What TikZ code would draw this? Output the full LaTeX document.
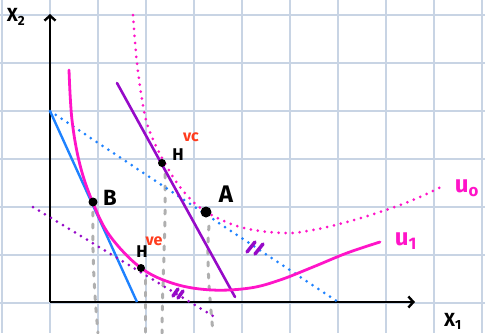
\documentclass[tikz,border=0pt]{standalone}
\usepackage{fontspec}
\setmainfont{Fira Sans}
\usetikzlibrary{arrows.meta}
\definecolor{gridc}{RGB}{200,212,228}
\definecolor{mag}{RGB}{255,20,200}
\definecolor{purp}{RGB}{150,10,200}
\definecolor{bluec}{RGB}{30,130,255}
\definecolor{redc}{RGB}{255,60,30}
\definecolor{grayc}{RGB}{175,175,175}
\tikzset{
  dots/.style={line width=3pt,line cap=round,dash pattern=on 0pt off 7pt},
  graydash/.style={grayc,line width=3pt,line cap=round,dash pattern=on 4pt off 8pt},
  ptdot/.style={circle,fill=black,inner sep=0pt},
  lbl/.style={inner sep=0pt},
  tick/.style={purp,line width=3.5pt,line cap=round}
}
\begin{document}
\begin{tikzpicture}[x=1pt,y=-1pt]
\useasboundingbox (0,0) rectangle (485,333);
% grid
\foreach \gx in {2,50,...,482} \draw[gridc,line width=1.4pt] (\gx,0) -- (\gx,333);
\foreach \gy in {15,63,...,303} \draw[gridc,line width=1.4pt] (0,\gy) -- (485,\gy);
% gray guides
\draw[graydash] (93,212) .. controls (92,260) and (95,300) .. (98,333);
\draw[graydash] (145,280) -- (145,333);
\draw[graydash] (165,174) .. controls (166,230) and (162,290) .. (162,333);
\draw[graydash] (209,226) .. controls (206,260) and (210,300) .. (213,333);
% axes
\coordinate (O) at (50,302);
\coordinate (Ytop) at (50,14);
\coordinate (Xend) at (415,302);
\draw[line width=2.4pt,-{Straight Barb[length=5pt,width=11pt]}] (O) -- (Ytop);
\draw[line width=2.4pt,-{Straight Barb[length=5pt,width=11pt]}] (O) -- (Xend);
\node[lbl,font=\fontsize{19}{19}\selectfont\bfseries] (x2) at (16,17) {X\textsubscript{2}};
\node[lbl,font=\fontsize{19}{19}\selectfont\bfseries] (x1) at (453,321) {X\textsubscript{1}};
% blue lines
\coordinate (b0) at (50,111);
\coordinate (b1) at (137,302);
\coordinate (b2) at (338,302);
\draw[bluec,line width=2.4pt] (b0) -- (b1);
\draw[bluec,dots] (b0) -- (b2);
% purple lines
\coordinate (p0) at (117,83);
\coordinate (p1) at (235,297);
\draw[purp,line width=2.6pt,line cap=round] (p0) -- (p1);
\coordinate (q0) at (33,207);
\coordinate (q1) at (218,319);
\draw[purp,dots] (q0) -- (q1);
% u1
\draw[mag,line width=2.8pt,line cap=round] plot[smooth,tension=0.6] coordinates {(69,70) (72,120) (80,165) (93,203) (110,236) (141,268) (175,284) (212,290) (250,288) (280,280) (313,267) (347,253) (380,242)};
% u0
\draw[mag,dots] plot[smooth,tension=0.6] coordinates {(133,15) (137,63) (144,111) (152,137) (167,167) (184,192) (205,211) (240,227) (283,233) (313,230) (347,222) (380,212) (413,200) (443,186)};
% tick marks
\draw[tick] (247,252) -- (255,242);
\draw[tick] (255,254) -- (263,244);
\draw[tick] (173,296) -- (178,289);
\draw[tick] (178,298) -- (183,291);
% points
\node[ptdot,minimum size=9pt] (B) at (93,202) {};
\node[ptdot,minimum size=8pt] (Hve) at (141,268) {};
\node[ptdot,minimum size=8pt] (Hvc) at (162,163) {};
\node[ptdot,minimum size=11pt] (A) at (206,212) {};
% labels
\node[lbl,font=\fontsize{22}{22}\selectfont\bfseries] (Bl) at (110,198) {B};
\node[lbl,font=\fontsize{24}{24}\selectfont\bfseries] (Al) at (226,194) {A};
\node[lbl,font=\fontsize{17}{17}\selectfont\bfseries] (Hl1) at (142,252) {H};
\node[lbl,font=\fontsize{16}{16}\selectfont\bfseries,redc] (ve) at (154,241) {ve};
\node[lbl,font=\fontsize{17}{17}\selectfont\bfseries] (Hl2) at (178,155) {H};
\node[lbl,font=\fontsize{16}{16}\selectfont\bfseries,redc] (vc) at (191,137) {vc};
\node[lbl,font=\fontsize{24}{24}\selectfont\bfseries,mag] (u1) at (406,241) {u\textsubscript{1}};
\node[lbl,font=\fontsize{24}{24}\selectfont\bfseries,mag] (u0) at (467,188) {u\textsubscript{o}};
\end{tikzpicture}
\end{document}
